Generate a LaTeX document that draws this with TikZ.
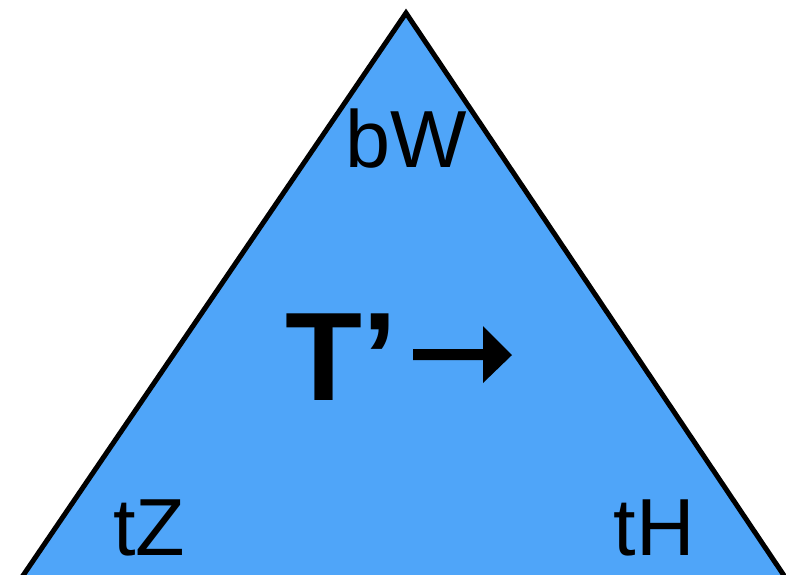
\documentclass[tikz,border=0pt]{standalone}
\usepackage{fontspec}
\setmainfont{Liberation Sans}
\definecolor{triblue}{HTML}{4FA5F9}
\begin{document}
\begin{tikzpicture}[x=1pt,y=-1pt,
  lbl/.style={inner sep=0pt, anchor=base, font=\fontsize{81}{81}\selectfont},
  big/.style={inner sep=0pt, anchor=base west, font=\fontsize{126}{126}\selectfont\bfseries}]
\useasboundingbox (0,0) rectangle (786,574);
\begin{scope}
\clip (0,0) rectangle (786,574);
\filldraw[fill=triblue, draw=black, line width=5pt, line join=miter] (406,13) -- (20,580) -- (787,580) -- cycle;
\end{scope}
\node[lbl] (bw) at (406,167) {bW};
\node[lbl] (tz) at (149,555) {tZ};
\node[lbl] (th) at (654,555) {tH};
\node[big] (tp) at (285,400) {T’};
\fill (413,349) -- (483,349) -- (483,326) -- (512,355) -- (483,383) -- (483,360) -- (413,360) -- cycle;
\end{tikzpicture}
\end{document}
